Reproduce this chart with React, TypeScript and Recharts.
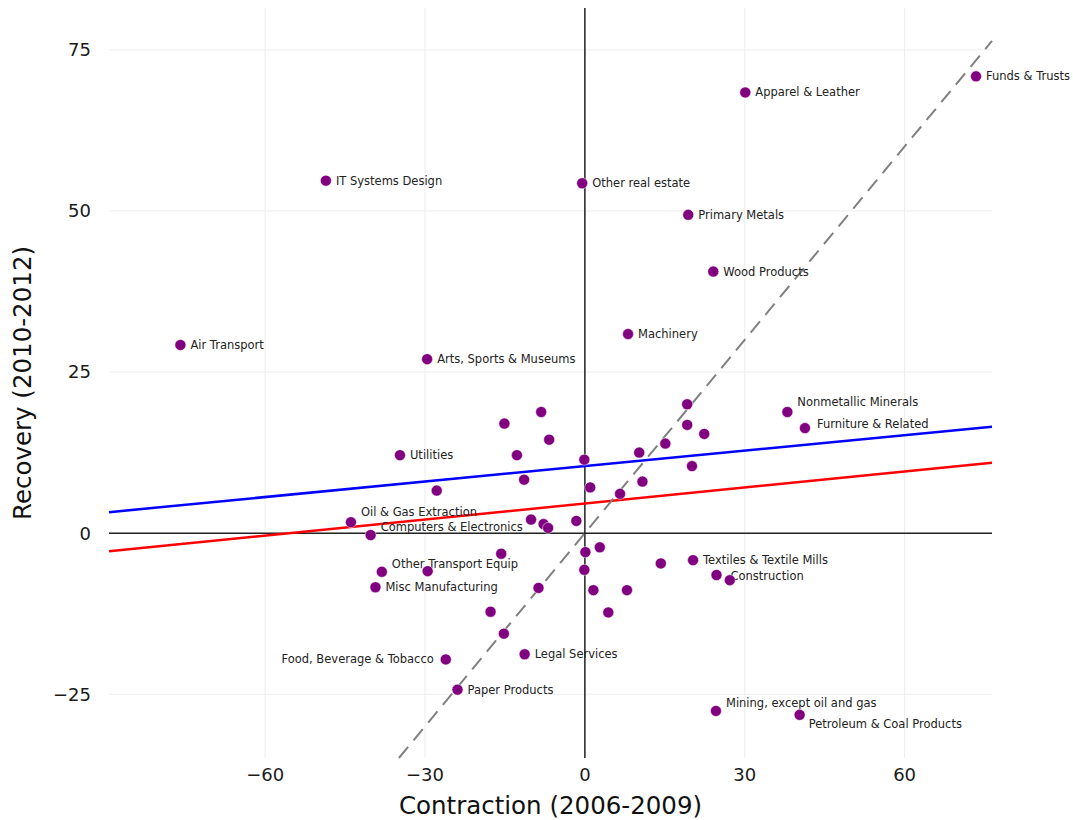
import React from "react";
import {
  ComposedChart,
  Scatter,
  XAxis,
  YAxis,
  CartesianGrid,
  ReferenceLine,
} from "recharts";

// industries ('' = unlabelled point)
const industries = [
  "Funds & Trusts", "Apparel & Leather", "IT Systems Design", "Other real estate",
  "Primary Metals", "Wood Products", "Machinery", "Air Transport",
  "Arts, Sports & Museums", "Nonmetallic Minerals", "Furniture & Related", "Utilities",
  "Oil & Gas Extraction", "Computers & Electronics", "Other Transport Equip", "Misc Manufacturing",
  "Textiles & Textile Mills", "Construction", "Food, Beverage & Tobacco", "Legal Services",
  "Paper Products", "Mining, except oil and gas", "Petroleum & Coal Products",
  "", "", "", "", "", "", "", "", "", "", "",
  "", "", "", "", "", "", "", "", "", "", "",
  "", "", "", "", "", "", "", "", "", "", "",
];

const contraction = [
  73.4, 30.1, -48.6, -0.5, 19.4, 24.1, 8.1, -75.9,
  -29.6, 38.0, 41.3, -34.7, -43.9, -40.2, -38.1, -39.3,
  20.3, 24.7, -26.1, -11.3, -23.9, 24.6, 40.3,
  -8.2, -15.1, -6.7, -12.75, -0.1, -11.4, -27.8, 1.0, 6.6, 10.2, 10.8,
  15.1, 19.2, 19.2, 20.1, 22.4, -10.1, -7.75, -6.9, -1.6, -15.7, 0.1,
  2.8, -0.1, -29.5, 14.25, 27.2, -8.7, 1.6, 7.9, -17.7, 4.4, -15.2,
];

const recovery = [
  70.9, 68.4, 54.7, 54.3, 49.4, 40.6, 30.9, 29.2,
  27.0, 18.8, 16.3, 12.1, 1.7, -0.3, -6.0, -8.4,
  -4.2, -6.5, -19.6, -18.8, -24.3, -27.6, -28.2,
  18.8, 17.0, 14.5, 12.1, 11.4, 8.3, 6.6, 7.1, 6.1, 12.5, 8.0,
  13.9, 20.0, 16.8, 10.4, 15.4, 2.1, 1.4, 0.8, 1.9, -3.2, -2.95,
  -2.2, -5.7, -5.9, -4.7, -7.3, -8.5, -8.85, -8.85, -12.2, -12.3, -15.6,
];

const xTicks = [-60, -30, 0, 30, 60];
const yTicks = [-25, 0, 25, 50, 75];
const xDomain: [number, number] = [-89.3, 76.4];
const yDomain: [number, number] = [-34.9, 81.5];

// fitted lines: y = intercept + slope * x
const blueFit = { intercept: 10.4, slope: 0.08 };
const redFit = { intercept: 4.6, slope: 0.083 };

const points = contraction.map((x, i) => ({ x, y: recovery[i], name: industries[i] }));

const fitSegment = (fit: { intercept: number; slope: number }) =>
  xDomain.map((x) => ({ x, y: fit.intercept + fit.slope * x }));

// y = x reference
const diag = [
  { x: yDomain[0], y: yDomain[0] },
  { x: xDomain[1], y: xDomain[1] },
];

// label nudges [dx, dy, anchor]
const nudge: Record<string, [number, number, string]> = {
  "Oil & Gas Extraction": [10, -10, "start"],
  "Computers & Electronics": [10, -8, "start"],
  "Other Transport Equip": [10, -8, "start"],
  "Nonmetallic Minerals": [10, -10, "start"],
  "Furniture & Related": [12, -4, "start"],
  "Mining, except oil and gas": [10, -8, "start"],
  "Petroleum & Coal Products": [9, 9, "start"],
  "Food, Beverage & Tobacco": [-12, 0, "end"],
  Construction: [14, 1, "start"],
};

const font = "DejaVu Sans, sans-serif";
const minus = (v: number) => String(v).replace("-", "\u2212");

const PointWithLabel = (props: any) => {
  const { cx, cy, payload } = props;
  const name = payload?.name;
  const [dx, dy, anchor] = nudge[name] ?? [10, 0, "start"];
  return (
    <g>
      <circle cx={cx} cy={cy} r={5.5} fill="#800080" stroke="#ffffff" strokeWidth={0.5} />
      {name ? (
        <text
          x={cx + dx}
          y={cy + dy}
          textAnchor={anchor as any}
          dominantBaseline="central"
          fontSize={11.5}
          fontFamily={font}
          fill="#222"
        >
          {name}
        </text>
      ) : null}
    </g>
  );
};

export default function App() {
  return (
    <div style={{ position: "absolute", left: 0, top: 0, background: "#fff" }}>
      <ComposedChart
        width={1073}
        height={820}
        margin={{ top: 8, right: 81, bottom: 0, left: 0 }}
      >
        <CartesianGrid stroke="#ededed" strokeWidth={1} syncWithTicks />
        <XAxis
          type="number"
          dataKey="x"
          domain={xDomain}
          ticks={xTicks}
          axisLine={false}
          tickLine={false}
          height={62}
          tickMargin={4}
          tickFormatter={minus}
          tick={{ fill: "#1a1a1a", fontSize: 18, fontFamily: font }}
          label={{
            value: "Contraction (2006-2009)",
            position: "insideBottom",
            offset: 6,
            style: { fill: "#111", fontSize: 24.5, fontFamily: font },
          }}
        />
        <YAxis
          type="number"
          dataKey="y"
          domain={yDomain}
          ticks={yTicks}
          axisLine={false}
          tickLine={false}
          width={109}
          tickSize={0}
          tickMargin={18}
          tickFormatter={minus}
          tick={{ fill: "#1a1a1a", fontSize: 18, fontFamily: font }}
          label={{
            value: "Recovery (2010-2012)",
            angle: -90,
            position: "insideLeft",
            offset: 22,
            style: { fill: "#111", fontSize: 24.5, fontFamily: font, textAnchor: "middle" },
          }}
        />
        <Scatter data={points} shape={<PointWithLabel />} isAnimationActive={false} />
        <ReferenceLine y={0} stroke="#222" strokeWidth={1.5} />
        <ReferenceLine x={0} stroke="#222" strokeWidth={1.5} />
        <ReferenceLine segment={fitSegment(blueFit)} stroke="#0000ff" strokeWidth={2.5} />
        <ReferenceLine segment={fitSegment(redFit)} stroke="#ff0000" strokeWidth={2.5} />
        <ReferenceLine segment={diag} stroke="#808080" strokeWidth={2} strokeDasharray="14.5 8.5" />
      </ComposedChart>
    </div>
  );
}
